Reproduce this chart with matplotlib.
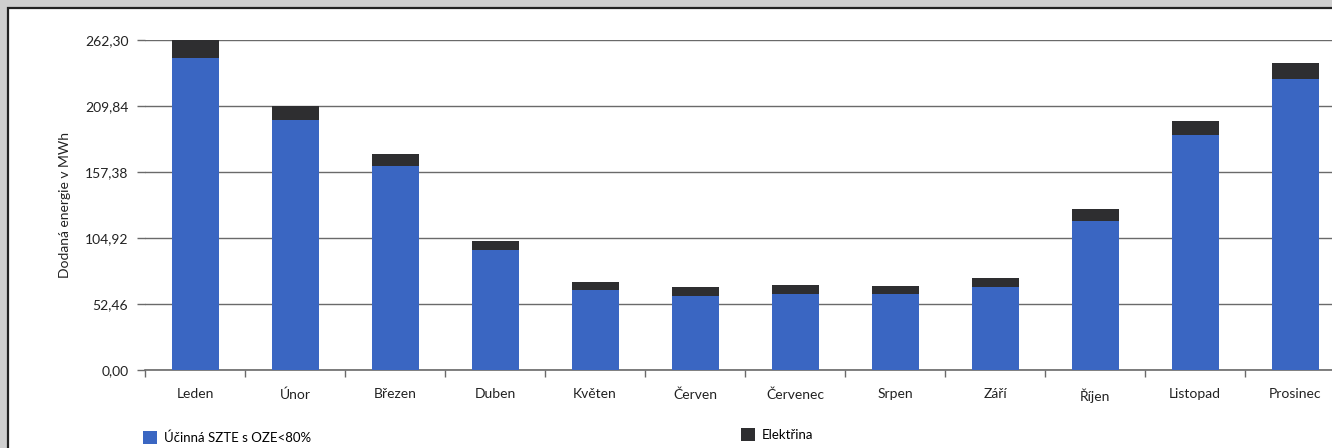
import matplotlib.pyplot as plt
from matplotlib.patches import Rectangle, Patch

# --- monthly delivered energy (MWh) ---
months = ['Leden', 'Únor', 'Březen', 'Duben', 'Květen', 'Červen',
          'Červenec', 'Srpen', 'Září', 'Říjen', 'Listopad', 'Prosinec']
szte = [247.7, 198.4, 161.9, 95.5, 63.5, 59.0, 60.4, 60.5, 65.9, 118.4, 187.0, 231.4]
elektrina = [14.6, 11.2, 9.8, 7.4, 6.6, 6.7, 6.9, 6.4, 7.4, 9.2, 11.2, 12.7]
y_ticks = [0.0, 52.46, 104.92, 157.38, 209.84, 262.30]

label_szte = 'Účinná SZTE s OZE<80%'
label_elek = 'Elektřina'

BLUE = '#3a66c2'
DARK = '#2e2e30'
GRID = '#6a6a6a'

plt.rcParams['font.family'] = ['Lato', 'DejaVu Sans']

W, H = 1332, 448
fig = plt.figure(figsize=(W / 100, H / 100), dpi=100)
fig.patch.set_facecolor('#cfcfcf')

# white page with a dark frame (open at the bottom and right)
frame = Rectangle((8 / W, -0.1), 1.0, 1.1 - 8 / H, transform=fig.transFigure,
                  facecolor='white', edgecolor='#222222', linewidth=1.6, zorder=-1)
fig.patches.append(frame)

# plot area runs past the right edge of the figure
ax = fig.add_axes([145 / W, 78 / H, 1200 / W, 330 / H])
ax.set_facecolor('none')

x = range(len(months))
ax.bar(x, szte, width=0.47, color=BLUE, zorder=3, label=label_szte)
ax.bar(x, elektrina, width=0.47, bottom=szte, color=DARK, zorder=3, label=label_elek)

ax.set_xlim(-0.5, len(months) - 0.5)
ax.set_ylim(0, y_ticks[-1])
ax.set_yticks(y_ticks)
ax.set_yticklabels([f'{v:.2f}'.replace('.', ',') for v in y_ticks], fontsize=10, color='#222222')
ax.yaxis.grid(True, color=GRID, linewidth=1.0, zorder=1)
ax.tick_params(axis='y', length=6, color=GRID, width=1.0, pad=6)

ax.set_xticks(list(x))
ax.set_xticklabels(months, fontsize=10, color='#222222')
ax.set_xticks([i - 0.5 for i in range(len(months) + 1)], minor=True)
ax.tick_params(axis='x', which='major', length=0, pad=13)
ax.tick_params(axis='x', which='minor', length=5, color=GRID, width=1.0)

for side in ['top', 'right', 'left']:
    ax.spines[side].set_visible(False)
ax.spines['bottom'].set_color(GRID)
ax.spines['bottom'].set_linewidth(1.2)

ax.set_ylabel('Dodaná energie v MWh', fontsize=10, color='#222222', labelpad=10)

# legend entries sit at the bottom, far apart
fig.legend(handles=[Patch(facecolor=BLUE)], labels=[label_szte], loc='upper left',
           bbox_to_anchor=(131 / W, 1 - 419 / H), frameon=False, fontsize=9.5,
           handlelength=1.1, handleheight=1.1, handletextpad=0.5)
fig.legend(handles=[Patch(facecolor=DARK)], labels=[label_elek], loc='upper left',
           bbox_to_anchor=(729 / W, 1 - 416 / H), frameon=False, fontsize=9.5,
           handlelength=1.1, handleheight=1.1, handletextpad=0.5)

fig.savefig('out.png', dpi=100)
